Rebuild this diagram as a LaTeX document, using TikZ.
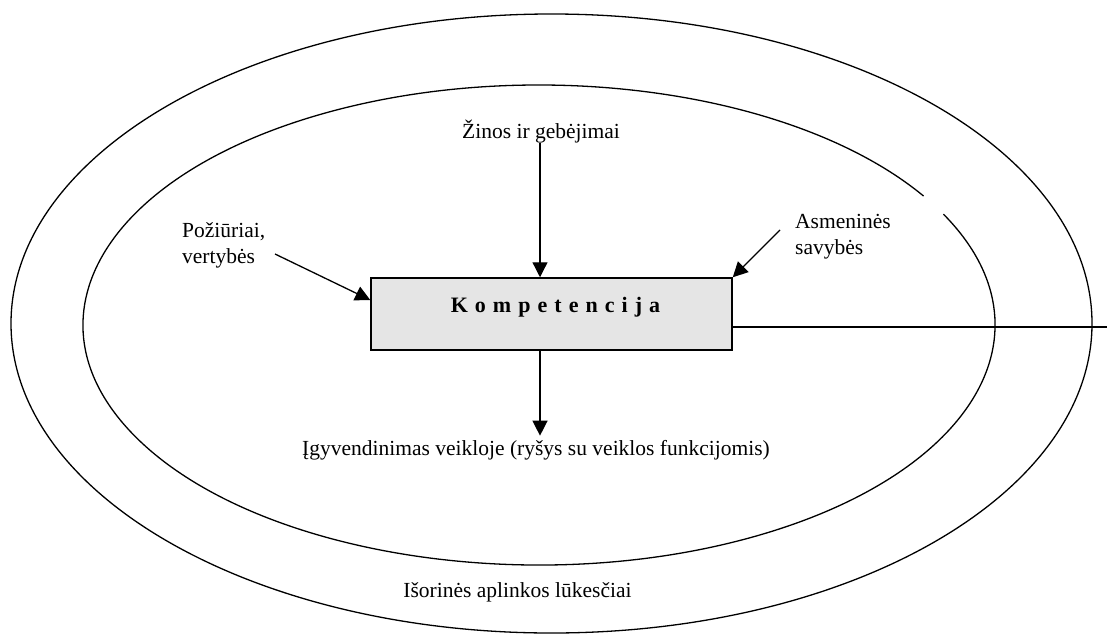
\documentclass[tikz,border=0pt]{standalone}
\usepackage{fontspec}
\setmainfont{Liberation Serif}
\usetikzlibrary{arrows.meta}
\begin{document}
\begin{tikzpicture}[x=1pt,y=-1pt,
  lbl/.style={font=\fontsize{21.5}{26}\selectfont, inner sep=0pt, align=left},
  ln/.style={line width=1.3pt},
  arr/.style={ln, -{Triangle[length=15pt,width=15pt]}},
  kbox/.style={draw, line width=1.5pt, fill=black!10, minimum width=361pt, minimum height=72pt, inner sep=0pt},
  ktext/.style={font=\fontsize{22}{26}\selectfont\bfseries\addfontfeature{LetterSpace=32}, inner sep=0pt}]
\useasboundingbox (0,0) rectangle (1107,637);
% ellipses
\coordinate (oc) at (551.5,323.5);
\coordinate (ic) at (539,325);
\draw[ln] (oc) ellipse [x radius=540.5, y radius=309.5];
\draw[ln] ([shift={(-27.5:456 and 240)}]ic) arc [start angle=-27.5, end angle=327.5, x radius=456, y radius=240];
% box
\node[kbox] (box) at (551.5,314) {};
\node[ktext, anchor=base] (kt) at (555.5,312) {Kompetencija};
% labels
\node[lbl, anchor=base] (zin) at (541,138) {Žinos ir gebėjimai};
\node[lbl, anchor=base west] (poz) at (182,263) {Požiūriai,\\vertybės};
\node[lbl, anchor=base west] (asm) at (795,254) {Asmeninės\\savybės};
\node[lbl, anchor=base] (igy) at (536,455) {Įgyvendinimas veikloje (ryšys su veiklos funkcijomis)};
\node[lbl, anchor=base] (iso) at (517.5,597) {Išorinės aplinkos lūkesčiai};
% connectors
\coordinate (pa) at (275,254);
\coordinate (aa) at (780,230);
\coordinate (edge) at (1107,327);
\draw[arr] (zin.south -| 540,0) -- (box.north -| 540,0);
\draw[arr] (pa) -- ([yshift=14pt]box.west);
\draw[arr] (aa) -- (box.north east);
\draw[arr] (box.south -| 540,0) -- ([yshift=4pt]igy.north -| 540,0);
\draw[ln] ([yshift=-13pt]box.east) -- (edge);
\end{tikzpicture}
\end{document}
